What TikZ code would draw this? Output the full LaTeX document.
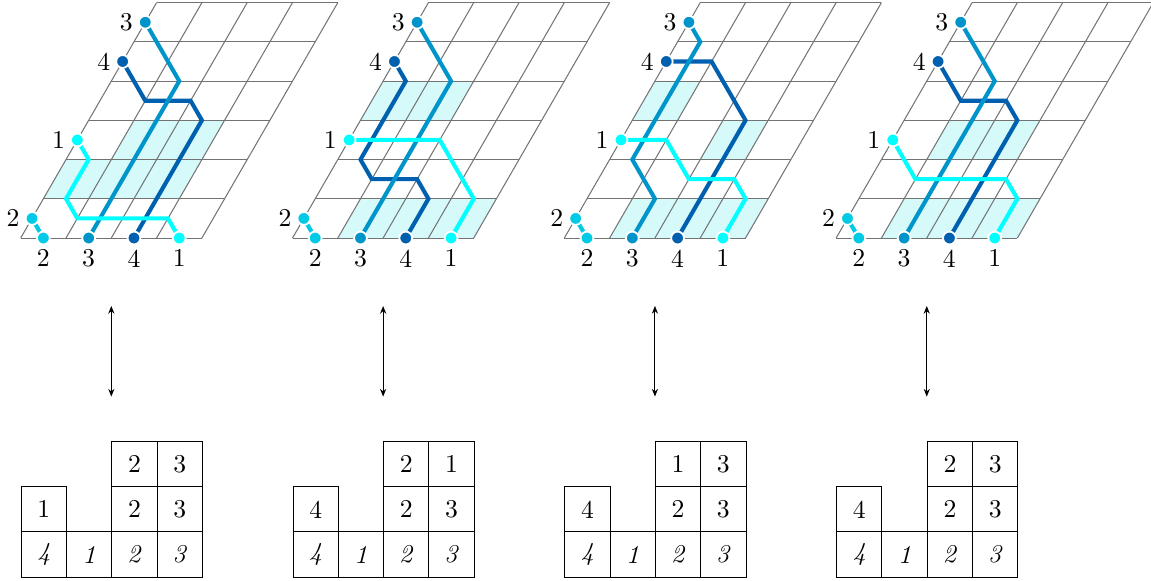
\documentclass[tikz,border=0pt]{standalone}
\usetikzlibrary{positioning,arrows.meta}
\definecolor{pipeone}{RGB}{0,255,255}
\definecolor{pipetwo}{RGB}{0,202,229}
\definecolor{pipethree}{RGB}{0,149,202}
\definecolor{pipefour}{RGB}{0,96,176}
\definecolor{cellshade}{RGB}{214,250,250}
\begin{document}
\begin{tikzpicture}[x=0.62cm, y=0.62cm,
  gridline/.style={black!55, line width=0.4pt},
  pipe/.style={line width=1.6pt, draw=#1},
  dot/.style={circle, fill=#1, draw=white, line width=0.7pt, inner sep=0pt, minimum size=5pt},
  tag/.style={inner sep=0pt},
  cell/.style={draw, line width=0.4pt, minimum size=0.62cm, inner sep=0pt, anchor=south west}]
  \useasboundingbox (-0.457,-7.55) rectangle (24.95,5.254);

  % slanted lattices
  \begin{scope}[y={(0.31cm,0.53694cm)}]
    \foreach \px/\i/\j in {0/1/2, 0/2/2, 0/0/1, 0/1/1, 0/2/1,
                           6/0/3, 6/1/3, 6/1/0, 6/2/0, 6/3/0,
                           12/0/3, 12/2/2, 12/1/0, 12/2/0, 12/3/0,
                           18/1/2, 18/2/2, 18/1/0, 18/2/0, 18/3/0}
      \fill[cellshade] (\px+\i,\j) -- ++(1,0) -- ++(0,1) -- ++(-1,0) -- cycle;
    \foreach \p in {1,...,4} {
      \begin{scope}[shift={(6*\p-6,0)}]
        \foreach \i in {0,...,4} \draw[gridline] (\i,0) -- (\i,6);
        \foreach \j in {0,...,6} \draw[gridline] (0,\j) -- (4,\j);
        \coordinate (L1-\p) at (0,2.5);
        \coordinate (L2-\p) at (0,0.5);
        \coordinate (L3-\p) at (0,5.5);
        \coordinate (L4-\p) at (0,4.5);
        \coordinate (B2-\p) at (0.5,0);
        \coordinate (B3-\p) at (1.5,0);
        \coordinate (B4-\p) at (2.5,0);
        \coordinate (B1-\p) at (3.5,0);
      \end{scope}
    }
    % panel 1
    \draw[pipe=pipefour] (L4-1) -- (1,3.5) -- (2,3.5) -- (2.5,3) -- (B4-1);
    \draw[pipe=pipethree] (L3-1) -- (1.5,4) -- (B3-1);
    \draw[pipe=pipetwo] (L2-1) -- (B2-1);
    \draw[pipe=pipeone] (L1-1) -- (0.5,2) -- (0.5,1) -- (1,0.5) -- (3,0.5) -- (B1-1);
    % panel 2
    \begin{scope}[shift={(6,0)}]
      \draw[pipe=pipefour] (L4-2) -- (0.5,4) -- (0.5,2) -- (1,1.5) -- (2,1.5) -- (2.5,1) -- (B4-2);
      \draw[pipe=pipethree] (L3-2) -- (1.5,4) -- (B3-2);
      \draw[pipe=pipetwo] (L2-2) -- (B2-2);
      \draw[pipe=pipeone] (L1-2) -- (2,2.5) -- (3.5,1) -- (B1-2);
    \end{scope}
    % panel 3
    \begin{scope}[shift={(12,0)}]
      \draw[pipe=pipefour] (L4-3) -- (1,4.5) -- (2.5,3) -- (B4-3);
      \draw[pipe=pipethree] (L3-3) -- (0.5,5) -- (0.5,2) -- (1.5,1) -- (B3-3);
      \draw[pipe=pipetwo] (L2-3) -- (B2-3);
      \draw[pipe=pipeone] (L1-3) -- (1,2.5) -- (2,1.5) -- (3,1.5) -- (3.5,1) -- (B1-3);
    \end{scope}
    % panel 4
    \begin{scope}[shift={(18,0)}]
      \draw[pipe=pipefour] (L4-4) -- (1,3.5) -- (2,3.5) -- (2.5,3) -- (B4-4);
      \draw[pipe=pipethree] (L3-4) -- (1.5,4) -- (B3-4);
      \draw[pipe=pipetwo] (L2-4) -- (B2-4);
      \draw[pipe=pipeone] (L1-4) -- (1,1.5) -- (3,1.5) -- (3.5,1) -- (B1-4);
    \end{scope}
  \end{scope}

  % end points and their labels
  \foreach \p in {1,...,4}
    \foreach \k/\col in {1/pipeone, 2/pipetwo, 3/pipethree, 4/pipefour} {
      \node[dot=\col] (l\k-\p) at (L\k-\p) {};
      \node[dot=\col] (b\k-\p) at (B\k-\p) {};
      \node[tag, left=1.8pt of l\k-\p] (ln\k-\p) {\k};
      \node[tag, below=1.5pt of b\k-\p] (bn\k-\p) {\k};
    }

  % arrows and tableaux
  \foreach \p/\a/\b/\c/\d/\e in {1/1/2/3/2/3, 2/4/2/3/2/1, 3/4/2/3/1/3, 4/4/2/3/2/3} {
    \begin{scope}[shift={(6*\p-6,0)}]
      \coordinate (up-\p) at (2,-1.5);
      \coordinate (dn-\p) at (2,-3.5);
      \draw[{Stealth[length=3pt,width=2.4pt]}-{Stealth[length=3pt,width=2.4pt]}] (up-\p) -- (dn-\p);
      \foreach \x/\v in {0/4, 1/1, 2/2, 3/3}
        \node[cell] (t\p-\x-0) at (\x,-7.5) {\textit{\v}};
      \node[cell] (t\p-0-1) at (0,-6.5) {\a};
      \node[cell] (t\p-2-1) at (2,-6.5) {\b};
      \node[cell] (t\p-3-1) at (3,-6.5) {\c};
      \node[cell] (t\p-2-2) at (2,-5.5) {\d};
      \node[cell] (t\p-3-2) at (3,-5.5) {\e};
    \end{scope}
  }
\end{tikzpicture}
\end{document}
